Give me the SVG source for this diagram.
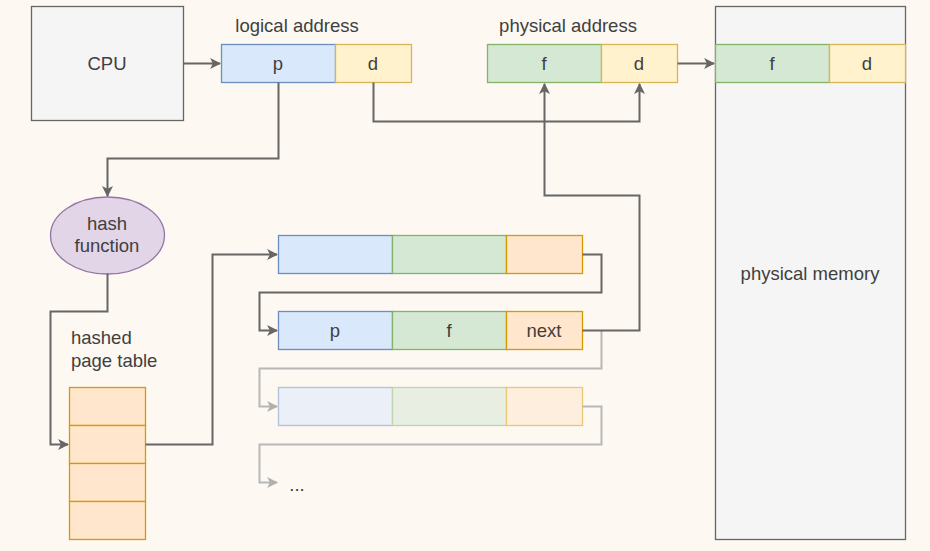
<svg xmlns="http://www.w3.org/2000/svg" width="930" height="551" viewBox="0 0 930 551">
<style>
text{font-family:"Liberation Sans",Arial,sans-serif;font-size:18.5px;fill:#404040;text-anchor:middle;dominant-baseline:central}
.gray{fill:#f5f5f5;stroke:#666666;stroke-width:1.3}
.blue{fill:#dae8fc;stroke:#6c8ebf;stroke-width:1.3}
.yel{fill:#fff2cc;stroke:#d6b656;stroke-width:1.3}
.grn{fill:#d5e8d4;stroke:#82b366;stroke-width:1.3}
.org{fill:#ffe6cc;stroke:#d79b00;stroke-width:1.3}
.pur{fill:#e1d5e7;stroke:#9673a6;stroke-width:1.3}
.edge{fill:none;stroke:#666666;stroke-width:2;marker-end:url(#arr)}
.edge2{fill:none;stroke:#b8b8b8;stroke-width:2;marker-end:url(#arr2)}
.faded{opacity:0.5}
</style>
<defs>
<marker id="arr" viewBox="0 0 10 10" refX="9" refY="5" markerWidth="5.5" markerHeight="5.5" markerUnits="strokeWidth" orient="auto"><path d="M0,0 L10,5 L0,10 L2.5,5 Z" fill="#666666"/></marker>
<marker id="arr2" viewBox="0 0 10 10" refX="9" refY="5" markerWidth="5.5" markerHeight="5.5" markerUnits="strokeWidth" orient="auto"><path d="M0,0 L10,5 L0,10 L2.5,5 Z" fill="#b0b0b0"/></marker>
</defs>
<rect width="930" height="551" fill="#fdf8f2"/>

<g id="memory">
<rect class="gray" x="715.5" y="6.5" width="190" height="533"/>
<text x="810" y="273">physical memory</text>
<rect class="grn" x="715.5" y="44.5" width="114" height="38"/>
<text x="772" y="63">f</text>
<rect class="yel" x="829.5" y="44.5" width="76" height="38"/>
<text x="867" y="63">d</text>
</g>

<g id="cpu">
<rect class="gray" x="31.5" y="6.5" width="152" height="114"/>
<text x="107" y="63">CPU</text>
</g>

<g id="logical">
<text x="297" y="25">logical address</text>
<rect class="blue" x="221.5" y="44.5" width="114" height="38"/>
<text x="278" y="63">p</text>
<rect class="yel" x="335.5" y="44.5" width="76" height="38"/>
<text x="373" y="63">d</text>
</g>

<g id="physical">
<text x="568" y="25">physical address</text>
<rect class="grn" x="487.5" y="44.5" width="114" height="38"/>
<text x="544" y="63">f</text>
<rect class="yel" x="601.5" y="44.5" width="76" height="38"/>
<text x="639" y="63">d</text>
</g>

<g id="hash">
<ellipse class="pur" cx="107.5" cy="235.5" rx="57" ry="38.5"/>
<text x="107" y="223">hash</text>
<text x="107" y="245">function</text>
</g>

<g id="table">
<text x="71" y="337" style="text-anchor:start">hashed</text>
<text x="71" y="360" style="text-anchor:start">page table</text>
<rect class="org" x="69.5" y="387.5" width="76" height="38"/>
<rect class="org" x="69.5" y="425.5" width="76" height="38"/>
<rect class="org" x="69.5" y="463.5" width="76" height="38"/>
<rect class="org" x="69.5" y="501.5" width="76" height="38"/>
</g>

<g id="entry1">
<rect class="blue" x="278.5" y="235.5" width="114" height="38"/>
<rect class="grn" x="392.5" y="235.5" width="114" height="38"/>
<rect class="org" x="506.5" y="235.5" width="76" height="38"/>
</g>

<g id="entry2">
<rect class="blue" x="278.5" y="311.5" width="114" height="38"/>
<text x="335" y="330">p</text>
<rect class="grn" x="392.5" y="311.5" width="114" height="38"/>
<text x="449" y="330">f</text>
<rect class="org" x="506.5" y="311.5" width="76" height="38"/>
<text x="544" y="330">next</text>
</g>

<g id="entry3" class="faded">
<rect class="blue" x="278.5" y="387.5" width="114" height="38"/>
<rect class="grn" x="392.5" y="387.5" width="114" height="38"/>
<rect class="org" x="506.5" y="387.5" width="76" height="38"/>
</g>

<g id="more">
<text x="297" y="484">...</text>
</g>

<g id="connectors">
<path class="edge2" d="M601.5,330.5 V368.5 H259.5 V406.5 H277"/>
<path class="edge2" d="M582.5,406.5 H601.5 V444.5 H259.5 V482.5 H277"/>
<path class="edge" d="M183.5,63.5 H220"/>
<path class="edge" d="M278.5,82.5 V158.5 H107.5 V196"/>
<path class="edge" d="M373.5,82.5 V121.5 H639.5 V84"/>
<path class="edge" d="M677.5,63.5 H714"/>
<path class="edge" d="M582.5,330.5 H639.5 V195.5 H544.5 V84"/>
<path class="edge" d="M107.5,273.5 V311.5 H50.5 V444.5 H68"/>
<path class="edge" d="M145.5,444.5 H212.5 V254.5 H277"/>
<path class="edge" d="M582.5,254.5 H601.5 V292.5 H259.5 V330.5 H277"/>
</g>
</svg>
